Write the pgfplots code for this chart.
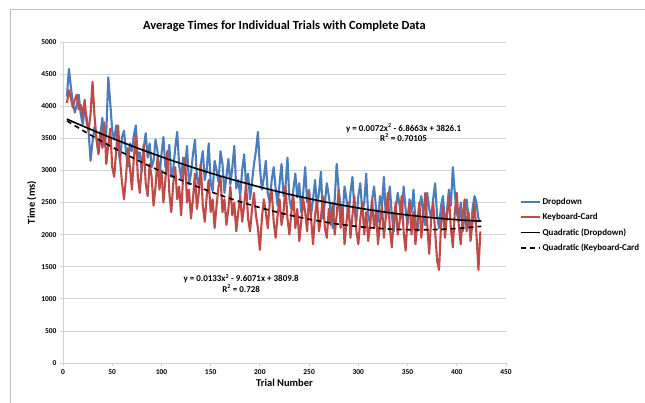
\documentclass[border=0pt]{standalone}
\usepackage{pgfplots}
\pgfplotsset{compat=1.18}
\usepackage{pgfplotstable}
\usepackage{fontspec}
\setmainfont{Carlito}
\definecolor{xlblue}{RGB}{74,126,187}
\definecolor{xlred}{RGB}{190,75,72}
\definecolor{xlgrid}{RGB}{210,210,210}
\definecolor{xlframe}{RGB}{190,190,190}

\pgfplotstableread{
x drop key
4 4150 4050
6 4580 4250
8 4300 4120
10 4050 3980
12 3900 4100
14 4020 4180
16 4180 3950
18 3880 4020
20 3720 3850
22 3950 4100
24 3820 3750
26 3600 3620
28 3150 3880
30 3450 4380
32 3680 3850
34 3500 3500
36 3280 3250
38 3560 3600
40 3820 3350
42 3380 3750
44 3600 3100
46 4450 3400
48 4050 3650
50 3620 3050
52 3480 2900
54 3700 3300
56 3350 3700
58 3150 3150
60 3520 2800
62 3620 2550
64 3280 2900
66 3060 3350
68 3420 3050
70 3300 2700
72 3550 3200
74 3700 3550
76 3180 2900
78 3280 2650
80 2980 3050
82 3350 3400
84 3580 2800
86 3200 2600
88 3420 3100
90 3050 2900
92 3150 2450
94 3480 2750
96 3300 3200
98 2880 2700
100 3250 3000
102 3520 2500
104 3050 2850
106 3180 3300
108 3400 2650
110 2900 2350
112 3020 2800
114 3350 3050
116 3600 2550
118 3080 2750
120 2880 2300
122 3200 2900
124 3050 3200
126 3380 2500
128 2780 2700
130 2950 2250
132 3250 2550
134 3480 2950
136 2900 2400
138 2760 2650
140 3100 3100
142 3300 2450
144 2850 2200
146 3020 2600
148 3420 2850
150 2800 2350
152 2680 2550
154 3150 2100
156 3000 2450
158 2820 2750
160 3300 2900
162 3100 2350
164 2650 2550
166 2900 2150
168 3180 2400
170 2780 2750
172 3050 2300
174 3380 2500
176 2720 2050
178 2850 2350
180 2600 2600
182 3000 2200
184 3250 2450
186 2780 2800
188 2950 2250
190 2550 2050
192 2820 2400
194 3100 2650
196 3300 2300
198 3600 2100
200 3050 1760
202 2700 2250
204 2880 2550
206 3150 2350
208 2650 2100
210 2500 2500
212 2850 2700
214 3050 2200
216 2720 1950
218 2450 2300
220 2800 2550
222 3100 2150
224 2600 2350
226 2750 2750
228 3200 2250
230 2550 2000
232 2400 2350
234 2700 2600
236 2950 2100
238 2580 2400
240 2800 1900
242 2350 2200
244 2650 2550
246 3050 2350
248 2500 2050
250 2700 2650
252 2300 2250
254 2550 1850
256 2850 2300
258 2450 2550
260 2650 2050
262 2980 2250
264 2250 2600
266 2500 2100
268 2800 1950
270 2600 2400
272 2350 2150
274 2100 2500
276 2550 2000
278 3100 2300
280 2700 2700
282 2450 2100
284 2300 2400
286 2750 1850
288 2550 2200
290 2250 2500
292 2650 1950
294 2900 2300
296 2400 2600
298 2200 2050
300 2600 1850
302 2800 2250
304 2350 2500
306 2500 2000
308 2950 2350
310 2300 1900
312 2150 2150
314 2550 2550
316 2750 2100
318 2400 2350
320 2200 1850
322 2600 2200
324 2450 2450
326 2900 1950
328 2250 2300
330 2500 2650
332 2750 2100
334 2300 1800
336 2050 2250
338 2400 2500
340 2650 2000
342 2450 2200
344 2250 2600
346 2750 2050
348 2400 1750
350 2150 2250
352 2550 2500
354 2350 2000
356 2700 2350
358 2200 1850
360 2050 2200
362 2450 2500
364 2600 1950
366 2300 2300
368 2150 2650
370 2650 2150
372 2400 1700
374 2250 2250
376 2550 2500
378 2800 2050
380 2300 1600
382 2100 1450
384 2450 2150
386 2600 2450
388 2150 1950
390 2350 2300
392 2700 2600
394 2450 2100
396 3050 1800
398 2650 2350
400 2350 2650
402 2200 2150
404 2500 1850
406 2050 2300
408 2300 2550
410 2550 2050
412 2250 2350
414 2000 1900
416 2400 2200
418 2600 2500
420 2500 2000
422 2250 1450
424 2200 2050
}\datatable

\pgfplotstableread{
x qd qk
4 3798.8 3771.6
25 3658.9 3577.9
50 3500.8 3362.7
75 3351.6 3164.1
100 3211.5 2982.1
125 3080.3 2816.7
150 2958.2 2668.0
175 2845.0 2535.9
200 2740.8 2420.4
225 2645.7 2321.5
250 2559.5 2239.3
275 2482.4 2173.6
300 2414.2 2124.7
325 2355.1 2092.3
350 2304.9 2076.6
375 2263.7 2077.4
400 2231.6 2095.0
425 2208.4 2129.1
}\trendtable

\begin{document}
\begin{tikzpicture}
\useasboundingbox (0,0) rectangle (645bp,403bp);
\draw[xlframe, line width=0.8bp] (10bp,-2bp) -- (10bp,394bp) -- (650bp,394bp);
\begin{axis}[
  at={(63bp,40bp)}, anchor=south west,
  scale only axis, width=443bp, height=321bp,
  xmin=0, xmax=450, ymin=0, ymax=5000,
  xtick={0,50,...,450}, ytick={0,500,...,5000},
  axis x line*=bottom, axis y line*=left,
  axis line style={xlgrid, line width=0.8bp, -},
  ymajorgrids, grid style={xlgrid, line width=0.8bp},
  tick style={xlgrid, line width=0.8bp},
  major tick length=3bp,
  tick align=outside,
  /pgf/number format/1000 sep={},
  /pgf/number format/assume math mode=true,
  ticklabel style={font=\fontsize{7.5}{9}\selectfont\bfseries, text=black},
  xlabel={Trial Number}, ylabel={Time (ms)},
  label style={font=\fontsize{10.5}{12}\selectfont\bfseries},
  xlabel style={yshift=2bp},
  ylabel style={yshift=-2bp},
  title={Average Times for Individual Trials with Complete Data},
  title style={font=\fontsize{12.5}{15}\selectfont\bfseries, yshift=1bp},
  legend style={at={(1.03,0.43)}, anchor=west, draw=none, fill=none,
    font=\fontsize{9}{10.5}\selectfont\bfseries, row sep=3.5bp,
    inner sep=0pt},
  legend cell align=left,
  legend image code/.code={\draw[#1] (0bp,0bp) -- (19bp,0bp);},
  clip=false,
]
\addplot[xlblue, line width=2.1bp, line join=round] table[x=x, y=drop] {\datatable};
\addlegendentry{Dropdown}
\addplot[xlred, line width=2.1bp, line join=round] table[x=x, y=key] {\datatable};
\addlegendentry{Keyboard-Card}
\addplot[black, line width=1.6bp, smooth] table[x=x, y=qd] {\trendtable};
\addlegendentry{Quadratic (Dropdown)}
\addplot[black, line width=1.6bp, dash pattern=on 5bp off 4bp, smooth] table[x=x, y=qk] {\trendtable};
\addlegendentry{Quadratic (Keyboard-Card}
\node[font=\fontsize{9}{10.5}\selectfont\bfseries, align=center] at (axis cs:346,3590) {y = 0.0072x\textsuperscript{2} - 6.8663x + 3826.1\\R\textsuperscript{2} = 0.70105};
\node[font=\fontsize{9}{10.5}\selectfont\bfseries, align=center] at (axis cs:181,1240) {y = 0.0133x\textsuperscript{2} - 9.6071x + 3809.8\\R\textsuperscript{2} = 0.728};
\end{axis}
\end{tikzpicture}
\end{document}
